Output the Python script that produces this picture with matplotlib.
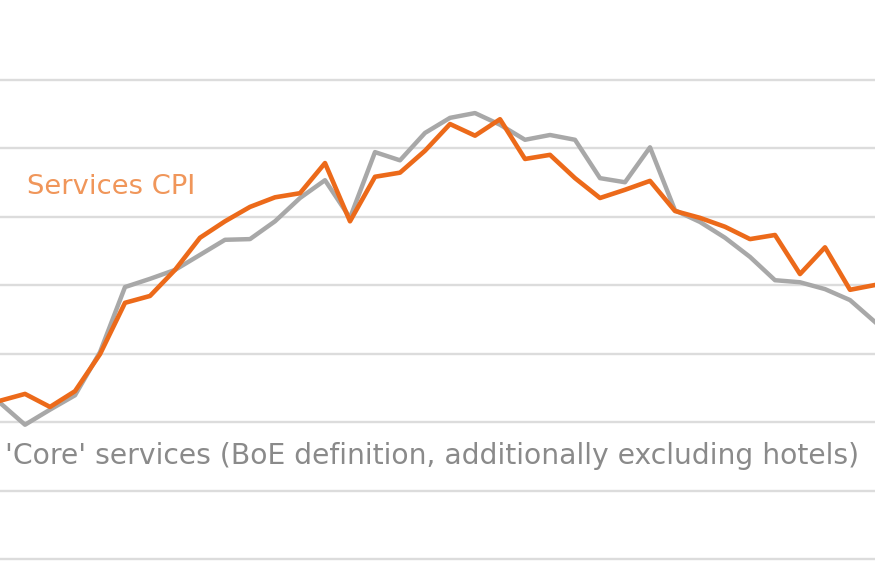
import matplotlib
matplotlib.use("Agg")
import matplotlib.pyplot as plt
import numpy as np

services_cpi = [2.31, 2.41, 2.22, 2.45, 2.99, 3.74, 3.84, 4.22, 4.69, 4.93, 5.14, 5.28,
                5.34, 5.78, 4.93, 5.58, 5.64, 5.96, 6.35, 6.18, 6.42, 5.84, 5.90, 5.56,
                5.27, 5.39, 5.52, 5.08, 4.98, 4.85, 4.67, 4.73, 4.16, 4.55, 3.93, 4.00]
core_services = [2.28, 1.96, 2.18, 2.39, 3.02, 3.97, 4.09, 4.22, 4.44, 4.66, 4.67, 4.93,
                 5.27, 5.53, 4.98, 5.94, 5.82, 6.22, 6.44, 6.51, 6.34, 6.12, 6.19, 6.12,
                 5.56, 5.50, 6.01, 5.09, 4.92, 4.69, 4.41, 4.07, 4.04, 3.94, 3.78, 3.46]
grid_levels = [0, 1, 2, 3, 4, 5, 6, 7]

label_cpi = "Services CPI"
label_core = "'Core' services (BoE definition, additionally excluding hotels)"

fig = plt.figure(figsize=(8.75, 5.88), dpi=100)
ax = fig.add_axes([0, 0, 1, 1])
x = np.arange(len(services_cpi))

for g in grid_levels:
    ax.axhline(g, color="#dcdcdc", lw=1.7, zorder=1)

ax.plot(x, core_services, color="#a8a8a8", lw=3.2, zorder=2)
ax.plot(x, services_cpi, color="#ec6a1a", lw=3.3, zorder=3)

ax.set_xlim(0, len(x) - 1)
ax.set_ylim((559 - 588) / 68.5, 559 / 68.5)
ax.axis("off")

t1 = ax.text(27 / 875, 1 - 187 / 588, label_cpi, transform=ax.transAxes,
             color="#f0965a", fontsize=15, va="center", ha="left")
t2 = ax.text(5 / 875, 1 - 456 / 588, label_core, transform=ax.transAxes,
             color="#8a8a8a", fontsize=15, va="center", ha="left")

fig.canvas.draw()
r = fig.canvas.get_renderer()
for t, w in [(t1, 168), (t2, 857)]:
    bb = t.get_window_extent(r)
    t.set_fontsize(t.get_fontsize() * w / bb.width)

fig.savefig("out.png", dpi=100)
